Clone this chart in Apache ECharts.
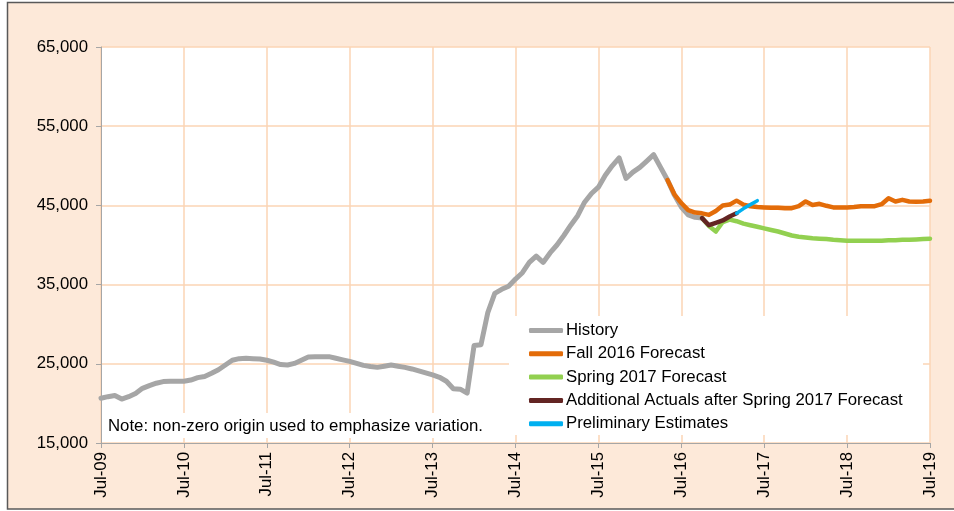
<!DOCTYPE html>
<html>
<head>
<meta charset="utf-8">
<script src="https://cdn.jsdelivr.net/npm/echarts@6/dist/echarts.min.js"></script>
<style>
html,body{margin:0;padding:0;background:#fff;}
#chart{width:954px;height:511px;}
</style>
</head>
<body>
<div id="chart"></div>
<script>
// Month categories Jul-09 .. Jul-19
const monthNames = ['Jan','Feb','Mar','Apr','May','Jun','Jul','Aug','Sep','Oct','Nov','Dec'];
const categories = [];
for (let i = 0; i <= 120; i++) {
  const mi = (6 + i) % 12;
  const yr = 9 + Math.floor((6 + i) / 12);
  categories.push(monthNames[mi] + '-' + String(yr).padStart(2, '0'));
}
const yTicks = [15000, 25000, 35000, 45000, 55000, 65000];

const historyStart = 0;
const historyValues = [20650, 20850, 21000, 20550, 20850, 21250, 21900, 22250, 22550, 22750,
  22800, 22800, 22800, 22950, 23250, 23400, 23800, 24250, 24850, 25450,
  25650, 25700, 25650, 25600, 25450, 25200, 24900, 24850, 25050, 25450,
  25850, 25900, 25900, 25900, 25700, 25500, 25300, 25050, 24800, 24650,
  24550, 24700, 24850, 24700, 24550, 24350, 24100, 23850, 23600, 23300,
  22800, 21850, 21800, 21300, 27300, 27400, 31500, 33900, 34400, 34800,
  35700, 36500, 37800, 38600, 37800, 39000, 40000, 41200, 42500, 43700,
  45400, 46500, 47300, 48800, 50000, 51000, 48400, 49200, 49800, 50600,
  51400, 49800, 48200, 46300, 44800, 43800, 43500, 43400];

const fallStart = 82;
const fallValues = [48200, 46400, 45300, 44400, 44100, 44000, 43800, 44300, 45000, 45100,
  45600, 45100, 44900, 44800, 44750, 44700, 44700, 44650, 44650, 44900,
  45500, 45050, 45200, 44950, 44750, 44750, 44750, 44800, 44900, 44900,
  44900, 45150, 45900, 45500, 45700, 45500, 45450, 45500, 45600];

const springStart = 87;
const springValues = [43400, 42400, 41700, 42900, 43200, 43000, 42700, 42500, 42300, 42100,
  41900, 41700, 41450, 41200, 41050, 40950, 40850, 40800, 40750, 40650,
  40600, 40550, 40550, 40550, 40550, 40550, 40550, 40600, 40600, 40650,
  40650, 40700, 40750, 40800];

const actualsStart = 87;
const actualsValues = [43400, 42500, 42800, 43100, 43600, 44000];

const prelimStart = 92;
const prelimValues = [44000, 44600, 45100, 45600];

function pad(start, vals) {
  return new Array(start).fill(null).concat(vals);
}

const FONT = '"Liberation Sans", Arial, sans-serif';
const FS = 16.8;
const chart = echarts.init(document.getElementById('chart'), null, {renderer: 'canvas'});

function line(name, start, vals, color, width) {
  return {
    name: name, type: 'line', data: pad(start, vals), symbol: 'none', showSymbol: false,
    connectNulls: false, animation: false,
    lineStyle: {color: color, width: width, join: 'round', cap: 'round'},
    itemStyle: {color: color}
  };
}

chart.setOption({
  backgroundColor: '#ffffff',
  animation: false,
  graphic: [
    {type: 'rect', z: -10, shape: {x: 7.5, y: 2.5, width: 980, height: 506.5},
     style: {fill: '#FDE9D9', stroke: '#595959', lineWidth: 1.5}},
    {type: 'rect', z: -9, shape: {x: 101, y: 47, width: 829, height: 396},
     style: {fill: '#ffffff'}},
    {type: 'rect', z: 3, shape: {x: 509, y: 316, width: 414, height: 119},
     style: {fill: '#ffffff'}},
    {type: 'rect', z: 3, shape: {x: 103, y: 413, width: 390, height: 25},
     style: {fill: '#ffffff'}},
    {type: 'text', z: 4, left: 108, top: 418,
     style: {text: 'Note: non-zero origin used to emphasize variation.', font: FS + 'px ' + FONT, fill: '#000'}}
  ],
  grid: {left: 101, right: 24, top: 47, bottom: 68, containLabel: false},
  legend: {
    orient: 'vertical', left: 529, top: 322, z: 5, padding: 0,
    icon: 'roundRect',
    itemWidth: 34, itemHeight: 5, itemGap: 6.3,
    textStyle: {fontFamily: FONT, fontSize: FS, color: '#000', lineHeight: 17, padding: [0, 0, 0, -2]},
    data: ['History', 'Fall 2016 Forecast', 'Spring 2017 Forecast', 'Additional Actuals after Spring 2017 Forecast', 'Preliminary Estimates']
  },
  xAxis: {
    type: 'category', data: categories, boundaryGap: false,
    axisLine: {lineStyle: {color: '#A6A6A6', width: 1}},
    axisTick: {show: true, interval: 11, length: 5, inside: false, lineStyle: {color: '#A6A6A6'}},
    axisLabel: {interval: 11, rotate: 90, margin: 9, fontFamily: FONT, fontSize: FS, color: '#000'},
    splitLine: {show: true, interval: 11, lineStyle: {color: '#FBD5B5', width: 1.5}}
  },
  yAxis: {
    type: 'value', min: yTicks[0], max: yTicks[yTicks.length - 1], interval: 10000,
    axisLine: {show: true, lineStyle: {color: '#A6A6A6', width: 1}},
    axisTick: {show: true, length: 5, lineStyle: {color: '#A6A6A6'}},
    axisLabel: {margin: 13, fontFamily: FONT, fontSize: FS, color: '#000',
      formatter: v => v.toLocaleString('en-US')},
    splitLine: {show: true, lineStyle: {color: '#FBD5B5', width: 1.5}}
  },
  series: [
    line('History', historyStart, historyValues, '#A6A6A6', 5),
    line('Spring 2017 Forecast', springStart, springValues, '#92D050', 4.5),
    line('Fall 2016 Forecast', fallStart, fallValues, '#E36C09', 4.5),
    line('Additional Actuals after Spring 2017 Forecast', actualsStart, actualsValues, '#632523', 4.5),
    line('Preliminary Estimates', prelimStart, prelimValues, '#00B0F0', 3.5)
  ]
});
</script>
</body>
</html>
